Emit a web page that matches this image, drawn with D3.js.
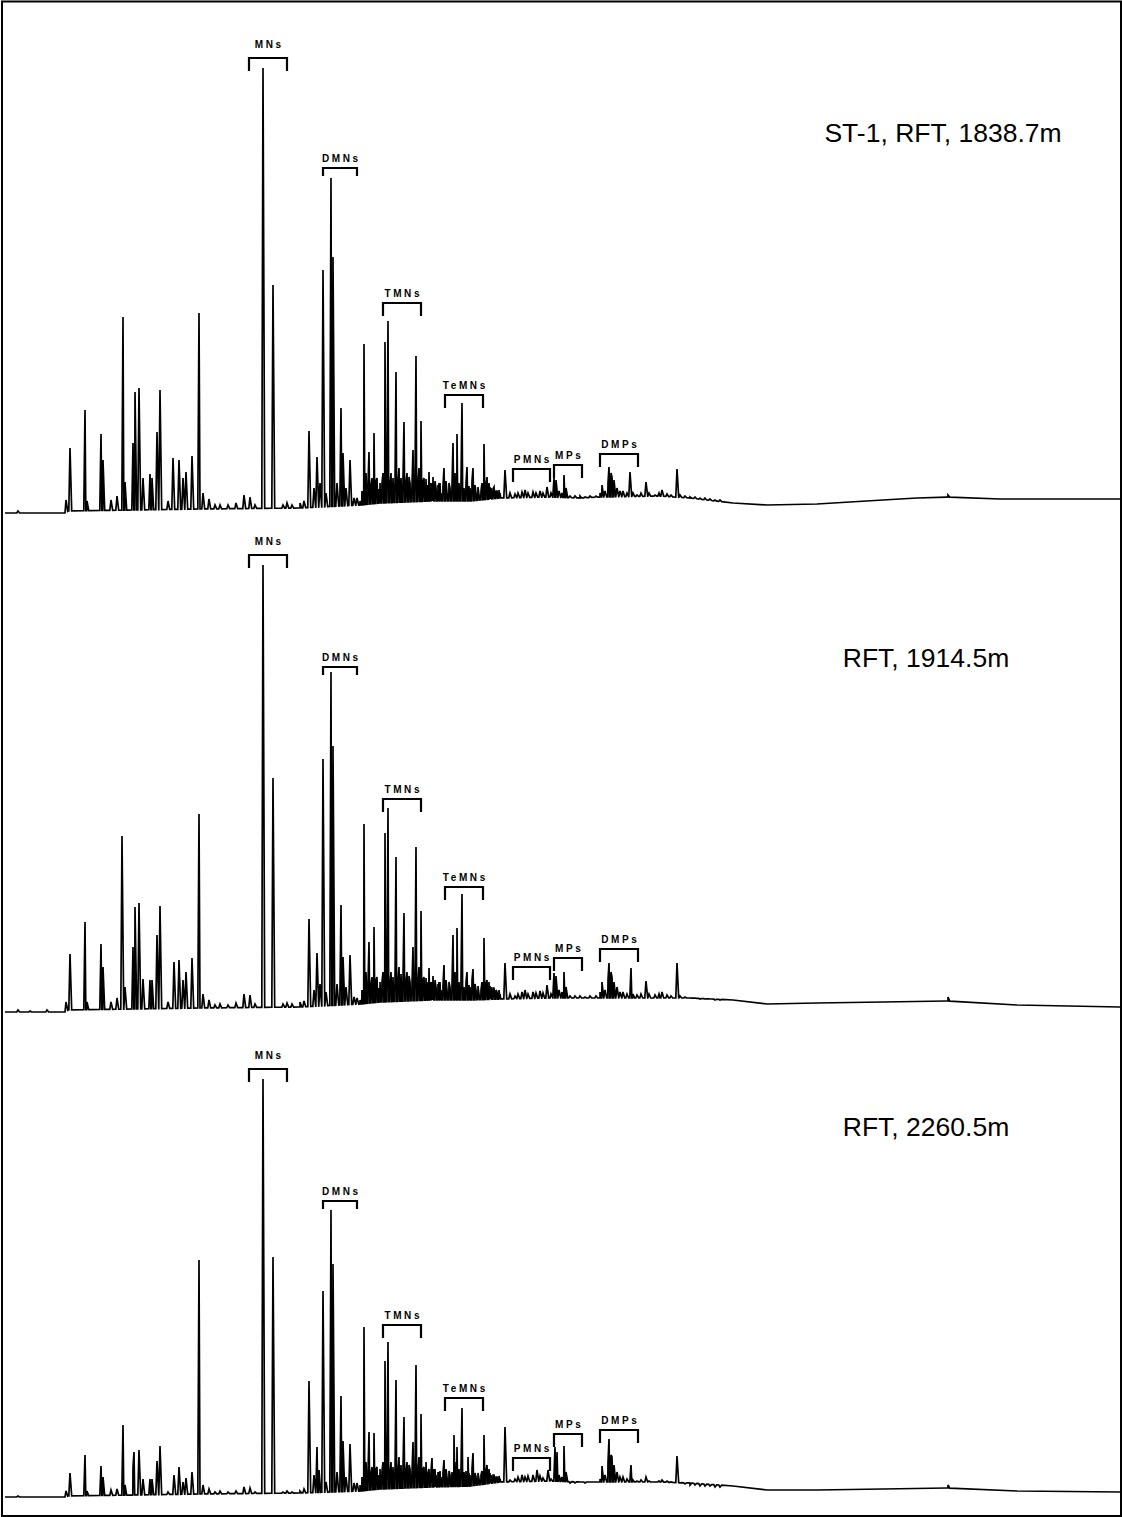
<!DOCTYPE html>
<html><head><meta charset="utf-8">
<script src="https://cdn.jsdelivr.net/npm/d3@7"></script>
<style>html,body{margin:0;padding:0;background:#fff}</style>
</head><body>
<svg id="chart" width="1122" height="1517"></svg>
<script>
// ---------- DATA (scan number, abundance) ----------
const sampleTitles = ["ST-1, RFT, 1838.7m", "RFT, 1914.5m", "RFT, 2260.5m"];
const groupNames = ["MNs", "DMNs", "TMNs", "TeMNs", "PMNs", "MPs", "DMPs"];
const groupScanRanges = [[249,287],[323,357],[383,421],[445,483],[513,550],[554,582],[600,638]];
const groupLevels1 = [455, 345, 210, 118, 44, 48, 59];
const groupLevels2 = [457, 345, 213, 125, 45, 54, 63];
const groupLevels3 = [428, 296, 172, 99, 39, 63, 67];

const baseline1 = [[5,0],[65,0],[68,2],[200,4],[300,5],[360,8],[380,10],[430,12],[470,12],[500,15],[550,16],[580,15],[600,16],[660,17],[690,15],[733,10],[767,8],[817,9],[883,13],[917,15],[948,16],[1000,14],[1120,14]];
const baseline2 = [[5,0],[65,0],[68,2],[200,4],[300,5],[360,8],[380,10],[430,12],[470,12],[500,13],[550,14],[600,14],[660,14],[690,14],[733,12],[767,8],[817,9],[883,10],[948,11],[1017,7],[1120,5]];
const baseline3 = [[5,0],[65,0],[68,1],[200,3],[300,4],[360,6],[380,8],[430,10],[470,11],[500,15],[550,16],[580,15],[600,15],[660,15],[690,14],[733,11],[767,7],[817,7],[883,8],[948,9],[1017,6],[1120,5]];

const peaks1 = [[18,2],[66,13],[70,65],[85,103],[87,12],[101,79],[103,53],[111,13],[117,17],[123,196],[125,31],[133,70],[135,121],[139,125],[143,35],[150,39],[152,35],[157,81],[160,123],[168,12],[173,55],[179,53],[183,35],[186,41],[192,57],[199,200],[203,20],[209,14],[215,8],[220,8],[228,8],[236,10],[244,18],[250,16],[255,8],[263,445],[273,228],[283,8],[287,10],[292,8],[300,10],[304,12],[309,82],[314,25],[317,56],[320,30],[323,243],[326,20],[331,335],[333,256],[337,30],[341,105],[343,60],[346,25],[350,53],[354,15],[357,15],[360,12],[362,22],[364,169],[366,40],[368,30],[369,61],[371,28],[372,35],[374,80],[376,32],[377,35],[379,24],[380,30],[382,30],[383,40],[385,171],[387,32],[388,192],[390,28],[391,40],[393,35],[395,30],[396,141],[398,30],[399,45],[401,35],[403,34],[404,91],[406,30],[407,40],[409,36],[410,30],[412,28],[413,63],[415,32],[416,157],[418,30],[419,45],[421,92],[423,32],[424,35],[426,34],[427,28],[428,28],[429,41],[431,30],[432,30],[433,36],[435,32],[436,25],[438,28],[439,30],[440,30],[441,20],[443,27],[444,45],[446,32],[447,20],[449,30],[450,25],[452,28],[453,70],[455,40],[456,32],[457,79],[458,30],[459,30],[461,32],[462,110],[464,25],[466,30],[467,46],[469,27],[470,25],[472,32],[473,45],[475,28],[476,20],[478,26],[479,18],[481,22],[482,30],[484,69],[486,28],[487,36],[489,30],[490,26],[491,25],[493,24],[494,26],[496,22],[497,22],[499,23],[500,20],[505,43],[510,20],[515,19],[518,20],[522,21],[525,23],[528,20],[533,21],[536,20],[540,22],[543,20],[547,26],[551,20],[554,35],[556,33],[559,22],[562,20],[564,38],[566,25],[570,17],[575,17],[580,17],[585,16],[590,17],[596,17],[600,20],[602,28],[605,22],[608,30],[609,46],[611,40],[612,36],[614,33],[617,25],[620,22],[623,22],[627,20],[630,41],[633,20],[637,18],[641,20],[646,31],[649,20],[655,18],[659,20],[662,23],[667,19],[671,18],[677,44],[680,18],[685,17],[690,16],[695,16],[700,15],[705,15],[710,14],[715,13],[720,13],[948,18]];

const peaks2 = [[18,2],[30,1],[47,2],[66,10],[70,58],[85,90],[87,10],[101,68],[103,45],[111,10],[117,14],[122,176],[125,25],[133,65],[135,105],[139,109],[143,33],[150,32],[152,32],[157,77],[160,106],[168,10],[174,50],[179,52],[183,32],[186,40],[192,54],[199,198],[203,18],[209,12],[215,7],[220,8],[228,7],[236,9],[244,18],[250,17],[255,8],[263,447],[273,234],[283,8],[287,9],[292,8],[300,10],[304,11],[309,93],[314,22],[317,59],[320,28],[323,253],[326,20],[331,340],[333,266],[337,28],[341,107],[343,55],[346,25],[350,57],[354,15],[357,14],[360,12],[362,22],[364,188],[366,40],[368,30],[369,70],[371,28],[372,35],[374,85],[376,32],[377,35],[379,24],[380,30],[382,30],[383,40],[385,179],[387,32],[388,204],[390,28],[391,40],[393,35],[395,30],[396,155],[398,30],[399,45],[401,38],[403,34],[404,99],[406,30],[407,40],[409,36],[410,30],[412,28],[413,65],[415,32],[416,165],[418,30],[419,45],[421,101],[423,32],[424,35],[426,34],[427,30],[428,28],[429,44],[431,30],[432,30],[433,36],[435,32],[436,25],[438,28],[439,30],[440,30],[441,22],[443,27],[444,47],[446,32],[447,22],[449,30],[450,25],[452,28],[453,77],[455,40],[456,32],[457,84],[458,30],[459,30],[461,32],[462,118],[464,25],[466,30],[467,40],[469,27],[470,25],[472,32],[473,43],[475,28],[476,22],[478,26],[479,18],[481,22],[482,30],[484,74],[486,28],[487,32],[489,30],[490,26],[491,25],[493,24],[494,24],[496,22],[497,20],[499,22],[500,18],[505,49],[510,18],[515,16],[518,18],[522,20],[525,22],[528,18],[533,20],[536,19],[540,21],[543,19],[547,27],[551,18],[554,39],[556,36],[559,22],[562,20],[564,40],[566,25],[570,16],[575,16],[580,16],[585,15],[590,16],[596,16],[600,20],[602,30],[605,22],[608,32],[609,49],[611,40],[612,35],[614,30],[617,25],[620,20],[623,20],[627,18],[631,44],[633,18],[637,17],[641,18],[646,31],[649,18],[655,17],[659,18],[662,20],[667,17],[671,16],[677,49],[680,16],[685,15],[690,14],[695,14],[700,13],[705,13],[710,13],[715,12],[720,12],[948,15]];

const peaks3 = [[18,1],[66,6],[70,24],[85,42],[87,6],[101,31],[103,20],[111,7],[117,8],[123,72],[125,12],[133,30],[134,45],[139,47],[143,18],[150,18],[152,18],[157,36],[160,51],[168,5],[174,22],[179,30],[183,15],[186,19],[192,25],[199,237],[203,12],[209,8],[215,5],[220,6],[228,5],[236,6],[244,10],[250,9],[255,5],[263,418],[273,240],[283,5],[287,6],[292,5],[300,6],[304,8],[309,116],[314,22],[317,50],[319,27],[323,206],[326,15],[331,287],[333,233],[337,25],[341,101],[343,56],[346,20],[350,53],[354,14],[357,14],[360,12],[362,20],[364,170],[366,35],[368,26],[369,65],[371,24],[372,30],[374,64],[376,28],[377,30],[379,22],[380,28],[382,26],[383,35],[385,136],[387,28],[388,155],[390,24],[391,35],[393,30],[395,26],[396,117],[398,26],[399,40],[401,32],[403,30],[404,80],[406,26],[407,35],[409,32],[410,28],[412,25],[413,55],[415,28],[416,132],[418,26],[419,40],[421,83],[423,28],[424,30],[426,35],[428,24],[429,28],[431,26],[432,39],[434,28],[435,28],[436,22],[438,25],[439,25],[440,26],[441,20],[443,24],[444,37],[446,28],[447,20],[449,26],[450,22],[452,25],[454,62],[455,35],[456,28],[457,50],[459,28],[461,28],[462,89],[464,25],[466,26],[468,40],[469,24],[470,22],[472,28],[473,44],[475,24],[476,20],[478,24],[479,18],[481,22],[482,26],[484,62],[486,26],[487,32],[489,28],[490,24],[491,22],[493,22],[494,22],[496,20],[497,20],[499,21],[500,18],[505,70],[510,17],[515,18],[518,20],[522,22],[525,20],[528,21],[533,22],[537,27],[540,21],[543,19],[548,27],[551,18],[555,50],[557,45],[559,22],[562,20],[564,51],[566,25],[570,14],[575,14],[580,15],[585,14],[590,15],[596,15],[600,18],[602,31],[605,22],[608,35],[609,58],[611,42],[612,40],[614,32],[617,25],[620,20],[623,20],[627,18],[631,32],[633,17],[637,16],[641,17],[646,20],[649,16],[655,15],[659,16],[662,17],[667,16],[671,15],[677,41],[680,14],[685,13],[690,12],[695,12],[700,11],[705,11],[710,11],[715,10],[720,10],[948,12]];

// ---------- LAYOUT ----------
const W = 1122, H = 1517;
const svg = d3.select("#chart");
const x = d3.scaleLinear().domain([0, 1122]).range([0, W]);
const panels = [
  {zero: 513,  title: sampleTitles[0], tx: 943, ty: 142, baseline: baseline1, peaks: peaks1, levels: groupLevels1},
  {zero: 1012, title: sampleTitles[1], tx: 926, ty: 667, baseline: baseline2, peaks: peaks2, levels: groupLevels2},
  {zero: 1497, title: sampleTitles[2], tx: 926, ty: 1136, baseline: baseline3, peaks: peaks3, levels: groupLevels3}
];

svg.append("rect").attr("x", 2).attr("y", 1.5).attr("width", 1119).attr("height", 1514.5)
  .attr("fill", "none").attr("stroke", "#000").attr("stroke-width", 2);

panels.forEach(p => {
  const y = d3.scaleLinear().domain([0, 500]).range([p.zero, p.zero - 500]);
  const baseAt = d3.scaleLinear().domain(p.baseline.map(d => d[0])).range(p.baseline.map(d => d[1])).clamp(true);
  const pts = p.baseline.map(d => [d[0], d[1]]);
  p.peaks.forEach(([s, h]) => {
    pts.push([s - 1.2, baseAt(s - 1.2)]);
    pts.push([s, h]);
    pts.push([s + 1.7, baseAt(s + 1.7)]);
  });
  pts.sort((a, b) => a[0] - b[0]);
  const line = d3.line().x(d => x(d[0])).y(d => y(d[1]));
  svg.append("path").attr("d", line(pts)).attr("fill", "none")
    .attr("stroke", "#000").attr("stroke-width", 1.7).attr("stroke-linejoin", "miter");

  const g = svg.append("g");
  groupNames.forEach((name, i) => {
    const [s0, s1] = groupScanRanges[i];
    const lv = p.levels[i];
    const tick = name === "DMNs" ? 8 : 13;
    g.append("path")
      .attr("d", `M${x(s0)},${y(lv - tick)}V${y(lv)}H${x(s1)}V${y(lv - tick)}`)
      .attr("fill", "none").attr("stroke", "#000").attr("stroke-width", 2.2);
    g.append("text")
      .attr("x", x((s0 + s1) / 2) + 1.3)
      .attr("y", y(lv + (name === "MNs" ? 10 : 6)))
      .attr("text-anchor", "middle")
      .attr("font-family", "Liberation Sans, Arial, sans-serif")
      .attr("font-weight", "bold").attr("font-size", 10)
      .attr("letter-spacing", 2.6)
      .text(name);
  });

  svg.append("text").attr("x", p.tx).attr("y", p.ty)
    .attr("text-anchor", "middle")
    .attr("font-family", "Liberation Sans, Arial, sans-serif")
    .attr("font-size", 26.5).text(p.title);
});
</script>
</body></html>
